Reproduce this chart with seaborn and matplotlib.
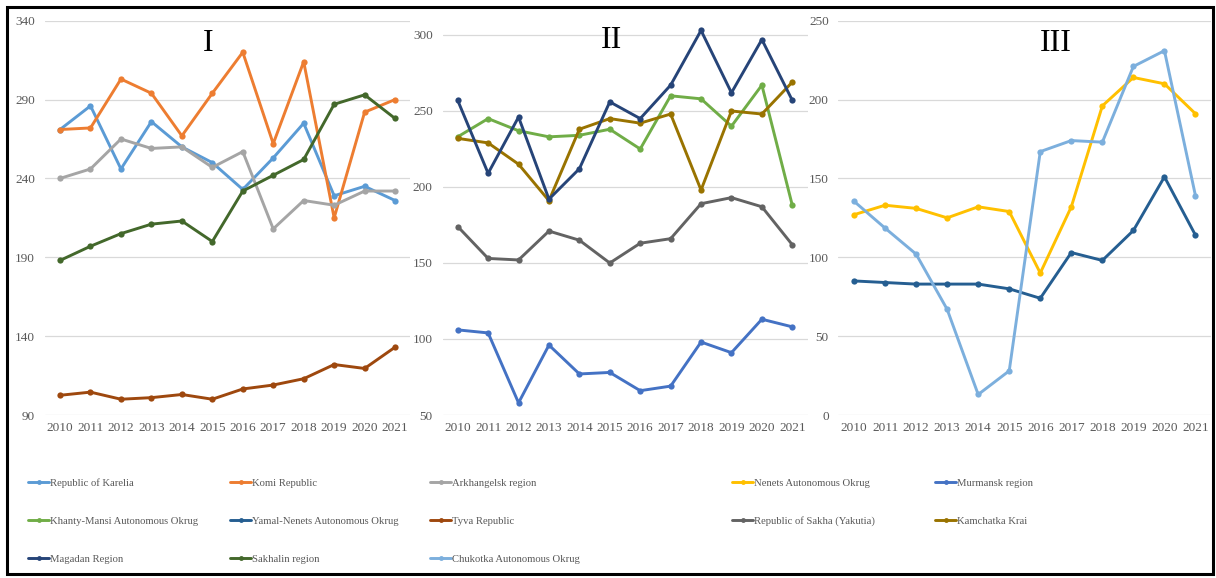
import matplotlib
matplotlib.use("Agg")
import matplotlib.pyplot as plt
import seaborn as sns
import pandas as pd
from matplotlib.lines import Line2D
from matplotlib.patches import Rectangle

years = list(range(2010, 2022))

# Group I
karelia = [271, 286, 246, 276, 260, 250, 233, 253, 275, 229, 235, 226]
komi = [271, 272, 303, 294, 267, 294, 320, 262, 314, 215, 282, 290]
arkhangelsk = [240, 246, 265, 259, 260, 247, 257, 208, 226, 223, 232, 232]
tyva = [102.5, 104.5, 100, 101, 103, 100, 106.5, 109, 113, 122, 119.5, 133]
sakhalin = [188, 197, 205, 211, 213, 200, 232, 242, 252, 287, 293, 278]

# Group II
murmansk = [106, 104, 58, 96, 77, 78, 66, 69, 98, 91, 113, 108]
khanty = [233, 245, 237, 233, 234, 238, 225, 260, 258, 240, 267, 188]
sakha = [174, 153, 152, 171, 165, 150, 163, 166, 189, 193, 187, 162]
kamchatka = [232, 229, 215, 191, 238, 245, 242, 248, 198, 250, 248, 269]
magadan = [257, 209, 246, 192, 212, 256, 245, 267, 303, 262, 297, 257]

# Group III
nenets = [127, 133, 131, 125, 132, 129, 90, 132, 196, 214, 210, 191]
yamal = [85, 84, 83, 83, 83, 80, 74, 103, 98, 117, 151, 114]
chukotka = [135.5, 118.5, 102, 67, 13, 28, 167, 174, 173, 221, 231, 139]

colors = {
    "Republic of Karelia": "#5B9BD5",
    "Komi Republic": "#ED7D31",
    "Arkhangelsk region": "#A5A5A5",
    "Nenets Autonomous Okrug": "#FFC000",
    "Murmansk region": "#4472C4",
    "Khanty-Mansi Autonomous Okrug": "#70AD47",
    "Yamal-Nenets Autonomous Okrug": "#255E91",
    "Tyva Republic": "#9E480E",
    "Republic of Sakha (Yakutia)": "#636363",
    "Kamchatka Krai": "#997300",
    "Magadan Region": "#264478",
    "Sakhalin region": "#43682B",
    "Chukotka Autonomous Okrug": "#7CAFDD",
}

panels = [
    ("I", {"Republic of Karelia": karelia, "Komi Republic": komi,
           "Arkhangelsk region": arkhangelsk, "Tyva Republic": tyva,
           "Sakhalin region": sakhalin},
     (90, 340), list(range(90, 341, 50)), (0.446, 0.941)),
    ("II", {"Murmansk region": murmansk, "Khanty-Mansi Autonomous Okrug": khanty,
            "Republic of Sakha (Yakutia)": sakha, "Kamchatka Krai": kamchatka,
            "Magadan Region": magadan},
     (50, 309.4), list(range(50, 301, 50)), (0.464, 0.951)),
    ("III", {"Nenets Autonomous Okrug": nenets, "Yamal-Nenets Autonomous Okrug": yamal,
             "Chukotka Autonomous Okrug": chukotka},
     (0, 250), list(range(0, 251, 50)), (0.584, 0.943)),
]

sns.set_style("white")
plt.rcParams["font.family"] = ["Liberation Serif", "DejaVu Serif"]

W, H = 1216, 578
fig = plt.figure(figsize=(W / 100, H / 100), dpi=100)

# axes boxes in pixels: left, right
boxes = [(44.8, 410.3), (442.5, 807.5), (838.5, 1211.0)]
top_px, bot_px = 20.7, 415.0

tick_color = "#595959"
for (name, series, ylim, yticks, tpos), (l, r) in zip(panels, boxes):
    ax = fig.add_axes([l / W, 1 - bot_px / H, (r - l) / W, (bot_px - top_px) / H])
    ax.set_facecolor("none")
    df = pd.DataFrame(
        [(y, v, k) for k, vals in series.items() for y, v in zip(years, vals)],
        columns=["year", "value", "region"],
    )
    sns.lineplot(data=df, x="year", y="value", hue="region",
                 hue_order=list(series.keys()),
                 palette={k: colors[k] for k in series}, marker="o",
                 markersize=4.5, markeredgewidth=0, linewidth=2.1,
                 legend=False, ax=ax, zorder=3)
    ax.set_xlim(2009.5, 2021.5)
    ax.set_ylim(*ylim)
    ax.set_xticks(years)
    ax.set_yticks(yticks)
    ax.set_xlabel("")
    ax.set_ylabel("")
    ax.yaxis.grid(True, color="#D9D9D9", linewidth=0.9, zorder=0)
    ax.xaxis.grid(False)
    for s in ax.spines.values():
        s.set_visible(False)
    ax.tick_params(axis="both", length=0, labelsize=9.5, labelcolor=tick_color)
    ax.tick_params(axis="y", pad=7)
    ax.tick_params(axis="x", pad=5)
    ax.text(tpos[0], tpos[1], name, transform=ax.transAxes, ha="center",
            va="center", fontsize=23, color="black")

# legend: one single-entry legend per slot so every row lines up exactly
legend_cols = [28, 230, 430, 732, 935]
legend_rows = [483, 521, 559]
legend_order = [
    ["Republic of Karelia", "Komi Republic", "Arkhangelsk region",
     "Nenets Autonomous Okrug", "Murmansk region"],
    ["Khanty-Mansi Autonomous Okrug", "Yamal-Nenets Autonomous Okrug",
     "Tyva Republic", "Republic of Sakha (Yakutia)", "Kamchatka Krai"],
    ["Magadan Region", "Sakhalin region", "Chukotka Autonomous Okrug"],
]
for ry, row in zip(legend_rows, legend_order):
    for cx, n in zip(legend_cols, row):
        h = Line2D([], [], color=colors[n], marker="o", markersize=3.5,
                   markeredgewidth=0, linewidth=2.1)
        fig.legend([h], [n], loc="center left",
                   bbox_to_anchor=(cx / W, 1 - ry / H), frameon=False,
                   fontsize=7.7, labelcolor=tick_color, borderpad=0,
                   borderaxespad=0, handlelength=2.0, handletextpad=0.1)

fig.patches.append(Rectangle((7 / W, 4 / H), 1206 / W, 567 / H,
                             transform=fig.transFigure, fill=False,
                             edgecolor="black", linewidth=2.2))

fig.savefig("out.png", dpi=100)
